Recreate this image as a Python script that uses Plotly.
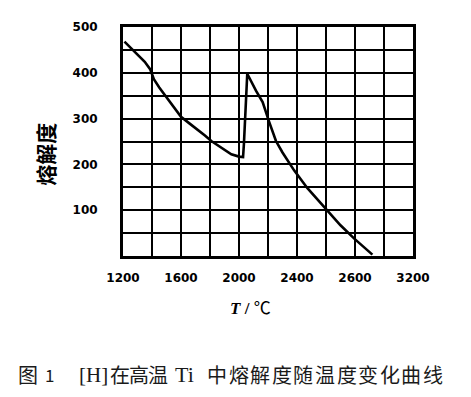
import plotly.graph_objects as go

# Data
temperature_c = [1210, 1260, 1310, 1350, 1387, 1413, 1450, 1491, 1550, 1600, 1660,
                 1715, 1765, 1809, 1878, 1947, 2000, 2028, 2034, 2057, 2117, 2163,
                 2208, 2255, 2300, 2380, 2472, 2600, 2700, 2795, 2877, 2920]
solubility = [468, 453, 438, 424, 408, 386, 368, 350, 326, 304, 289,
              276, 263, 251, 237, 222, 217, 216, 245, 398, 361, 336,
              293, 251, 226, 187, 148, 102, 67, 38, 14, 3]

x_grid_values = list(range(1200, 3201, 200))
x_tick_values = [1200, 1600, 2000, 2400, 2800, 3200]
x_tick_labels = ["1200", "1600", "2000", "2400", "2600", "3200"]
y_grid_values = list(range(0, 501, 50))
y_tick_values = [100, 200, 300, 400, 500]
y_tick_labels = ["100", "200", "300", "400", "500"]

y_title = "熔解度"
x_title = "<b><i>T</i></b> <b>/</b> ℃"
caption_head = ["图", "1", "[H]", "在", "高", "温", "Ti"]
caption_tail = "中熔解度随温度变化曲线"

x_text = {v: t for v, t in zip(x_tick_values, x_tick_labels)}
y_text = {v: t for v, t in zip(y_tick_values, y_tick_labels)}

fig = go.Figure()
fig.add_trace(go.Scatter(
    x=temperature_c, y=solubility, mode="lines",
    line=dict(color="black", width=2.6),
    hoverinfo="skip", showlegend=False,
))

# page body has an 8px margin: layout in figure coords
OFF = 8
L, T = 115, 15
W, H = 455, 381
pw, ph = 290, 233
R, B = W - L - pw, H - T - ph


def fx(page_x):
    return (page_x - OFF - L) / pw


def fy(page_y):
    return (T + ph - (page_y - OFF)) / ph


tick_font = dict(family="DejaVu Sans, sans-serif", size=12, color="black", weight="bold")

fig.update_layout(
    width=W, height=H,
    margin=dict(l=L, r=R, t=T, b=B, pad=0),
    paper_bgcolor="white", plot_bgcolor="white",
    xaxis=dict(
        range=[1200, 3200], tickmode="array", tickvals=x_grid_values,
        ticktext=[x_text.get(v, "") for v in x_grid_values],
        showgrid=True, gridcolor="black", gridwidth=2,
        showline=True, mirror=True, linecolor="black", linewidth=3,
        ticks="", ticklabelstandoff=9, tickfont=tick_font, zeroline=False,
        fixedrange=True,
    ),
    yaxis=dict(
        range=[0, 500], tickmode="array", tickvals=y_grid_values,
        ticktext=[y_text.get(v, "") for v in y_grid_values],
        showgrid=True, gridcolor="black", gridwidth=2,
        showline=True, mirror=True, linecolor="black", linewidth=3,
        ticks="", ticklabelstandoff=20, tickfont=tick_font, zeroline=False,
        fixedrange=True,
    ),
)

ann = []
ann.append(dict(text="<b>" + y_title + "</b>", x=fx(45), y=fy(153), xref="paper", yref="paper",
                textangle=-90, showarrow=False, xanchor="center", yanchor="middle",
                font=dict(family="Noto Sans CJK SC", size=21, color="black")))
ann.append(dict(text=x_title, x=fx(250), y=fy(309), xref="paper", yref="paper",
                showarrow=False, xanchor="center", yanchor="middle",
                font=dict(family="Liberation Serif, Noto Sans CJK SC", size=17, color="black")))

cap_y = fy(377)
head_x = [27.5, 49.5, 93.5, 120, 138.5, 158, 184.5]
head_font = ["Noto Sans CJK SC", "Noto Sans CJK SC", "Liberation Serif",
             "Noto Sans CJK SC", "Noto Sans CJK SC", "Noto Sans CJK SC", "Liberation Serif"]
head_size = [20, 17, 21, 20, 20, 20, 22]
for txt, xp, fam, sz in zip(caption_head, head_x, head_font, head_size):
    ann.append(dict(text=txt, x=fx(xp), y=cap_y, xref="paper", yref="paper",
                    showarrow=False, xanchor="center", yanchor="middle",
                    font=dict(family=fam, size=sz, color="#1a1a1a")))
for i, ch in enumerate(caption_tail):
    ann.append(dict(text=ch, x=fx(217 + i * 21.6), y=cap_y, xref="paper", yref="paper",
                    showarrow=False, xanchor="center", yanchor="middle",
                    font=dict(family="Noto Sans CJK SC", size=20, color="#1a1a1a")))
fig.update_layout(annotations=ann)

fig.write_html("out.html")
